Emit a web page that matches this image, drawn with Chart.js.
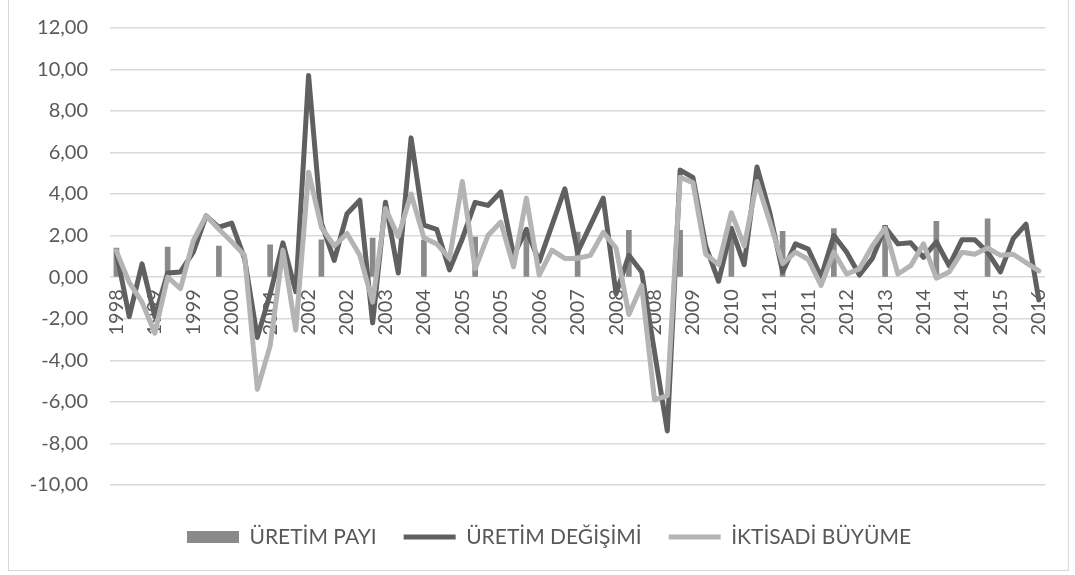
<!DOCTYPE html>
<html>
<head>
<meta charset="utf-8">
<script src="https://cdn.jsdelivr.net/npm/chart.js@4"></script>
<style>
  html, body { margin: 0; padding: 0; background: #fff; }
  #frame { position: absolute; left: 8px; top: -1px; width: 1059px; height: 570px; border: 1px solid #d9d9d9; }
  #wrap { position: absolute; left: 0; top: 0; width: 1075px; height: 575px; }
</style>
</head>
<body>
<div id="frame"></div>
<div id="wrap"><canvas id="myChart"></canvas></div>
<script>
// quarterly categories, one year label per quarter
const quarters = [
  "1998", "1998", "1998",
  "1999", "1999", "1999", "1999",
  "2000", "2000", "2000", "2000",
  "2001", "2001", "2001", "2001",
  "2002", "2002", "2002", "2002",
  "2003", "2003", "2003", "2003",
  "2004", "2004", "2004", "2004",
  "2005", "2005", "2005", "2005",
  "2006", "2006", "2006", "2006",
  "2007", "2007", "2007", "2007",
  "2008", "2008", "2008", "2008",
  "2009", "2009", "2009", "2009",
  "2010", "2010", "2010", "2010",
  "2011", "2011", "2011", "2011",
  "2012", "2012", "2012", "2012",
  "2013", "2013", "2013", "2013",
  "2014", "2014", "2014", "2014",
  "2015", "2015", "2015", "2015",
  "2016", "2016"
];

// annual share, only one value per year
const uretimPayi = [
  1.40, null, null, null, 1.44, null, null, null, 1.49, null, null, null,
  1.56, null, null, null, 1.80, null, null, null, 1.88, null, null, null,
  1.78, null, null, null, 1.93, null, null, null, 2.00, null, null, null,
  2.17, null, null, null, 2.25, null, null, null, 2.25, null, null, null,
  2.20, null, null, null, 2.20, null, null, null, 2.33, null, null, null,
  2.49, null, null, null, 2.68, null, null, null, 2.81, null, null, null,
  null
];

const uretimDegisimi = [
  1.20, -1.90, 0.64, -1.90, 0.20, 0.25, 1.20, 2.95, 2.40, 2.60,
  0.90, -2.90, -0.80, 1.65, -0.70, 9.70, 2.60, 0.80, 3.05, 3.70,
  -2.20, 3.60, 0.20, 6.70, 2.50, 2.30, 0.35, 1.85, 3.60, 3.45,
  4.10, 1.05, 2.30, 0.75, 2.50, 4.25, 1.20, 2.50, 3.80, -0.80,
  1.05, 0.25, -3.60, -7.40, 5.15, 4.80, 1.50, -0.20, 2.35, 0.60,
  5.30, 3.10, 0.25, 1.60, 1.35, 0.00, 2.00, 1.20, 0.10, 0.90,
  2.40, 1.60, 1.65, 0.95, 1.70, 0.55, 1.80, 1.80, 1.20, 0.25,
  1.85, 2.55, -1.10
];

const iktisadiBuyume = [
  1.25, -0.25, -1.20, -2.70, 0.00, -0.55, 1.75, 2.95, 2.30, 1.70,
  1.05, -5.40, -3.30, 1.30, -2.55, 5.05, 2.40, 1.50, 2.10, 1.05,
  -1.20, 3.30, 1.95, 4.00, 1.90, 1.60, 0.90, 4.60, 0.40, 2.00,
  2.65, 0.50, 3.80, 0.10, 1.30, 0.90, 0.90, 1.05, 2.15, 1.40,
  -1.80, -0.40, -5.90, -5.70, 4.80, 4.55, 1.10, 0.60, 3.10, 1.50,
  4.60, 2.65, 0.65, 1.20, 0.85, -0.40, 1.20, 0.15, 0.40, 1.50,
  2.35, 0.15, 0.55, 1.60, -0.05, 0.25, 1.20, 1.10, 1.40, 1.05,
  1.10, 0.70, 0.30
];

const yTicks = [-10, -8, -6, -4, -2, 0, 2, 4, 6, 8, 10, 12];

const textColor = "#595959";
const fontFamily = "Lato, 'Open Sans', sans-serif";
const tickFont = { family: fontFamily, size: 20 };

const fmt = (v) => v.toFixed(2).replace(".", ",");

const chartCtx = document.getElementById("myChart").getContext("2d");

// y labels are mirrored (so they are not clipped) and pulled back left of the plot
chartCtx.font = `${tickFont.size}px ${fontFamily}`;
const widestY = Math.max(...yTicks.map((v) => chartCtx.measureText(fmt(v)).width));

const legendLabels = (chart) => {
  const items = Chart.defaults.plugins.legend.labels.generateLabels(chart);
  items.forEach((item) => {
    if (item.datasetIndex === 0) {
      item.pointStyle = "rect";
      item.lineWidth = 0;
    } else {
      item.pointStyle = "line";
    }
  });
  return items.sort((a, b) => a.datasetIndex - b.datasetIndex);
};

window.chart = new Chart(chartCtx, {
  type: "bar",
  data: {
    labels: quarters,
    datasets: [
      {
        type: "bar",
        label: "ÜRETİM PAYI",
        data: uretimPayi,
        backgroundColor: "#8a8a8a",
        barThickness: 5,
        order: 3,
      },
      {
        type: "line",
        label: "ÜRETİM DEĞİŞİMİ",
        data: uretimDegisimi,
        borderColor: "#606060",
        backgroundColor: "#606060",
        borderWidth: 5,
        borderJoinStyle: "round",
        borderCapStyle: "round",
        pointRadius: 0,
        tension: 0,
        order: 2,
      },
      {
        type: "line",
        label: "İKTİSADİ BÜYÜME",
        data: iktisadiBuyume,
        borderColor: "#b4b4b4",
        backgroundColor: "#b4b4b4",
        borderWidth: 5,
        borderJoinStyle: "round",
        borderCapStyle: "round",
        pointRadius: 0,
        tension: 0,
        order: 1,
      },
    ],
  },
  options: {
    responsive: true,
    maintainAspectRatio: false,
    animation: false,
    layout: {
      padding: { top: 27.7, left: 46, right: 23, bottom: 17.5 },
    },
    scales: {
      x: {
        position: { y: 0 },
        offset: true,
        afterFit: (scale) => {
          scale.paddingTop = 0;
          scale.paddingBottom = 0;
        },
        grid: { display: false, drawTicks: false },
        border: { display: false },
        ticks: {
          autoSkip: false,
          minRotation: 90,
          maxRotation: 90,
          padding: 12,
          color: textColor,
          font: tickFont,
          callback: function (value, index) {
            return index % 3 === 0 ? this.getLabelForValue(value) : null;
          },
        },
      },
      y: {
        min: -10,
        max: 12,
        afterFit: (scale) => {
          scale.width = 64;
        },
        grid: { color: "#d9d9d9", lineWidth: 1.5, drawTicks: false },
        border: { display: false },
        ticks: {
          stepSize: 2,
          mirror: true,
          crossAlign: "far",
          padding: -22 - widestY,
          color: textColor,
          font: tickFont,
          callback: (value) => fmt(value),
        },
      },
    },
    plugins: {
      tooltip: { enabled: false },
      legend: {
        position: "bottom",
        title: {
          display: true,
          text: "",
          font: { size: 1 },
          padding: { top: 13.3, bottom: 0 },
        },
        labels: {
          usePointStyle: true,
          pointStyleWidth: 52,
          boxHeight: 12,
          padding: 27,
          color: textColor,
          font: { family: fontFamily, size: 21 },
          generateLabels: legendLabels,
        },
      },
    },
  },
});
</script>
</body>
</html>
